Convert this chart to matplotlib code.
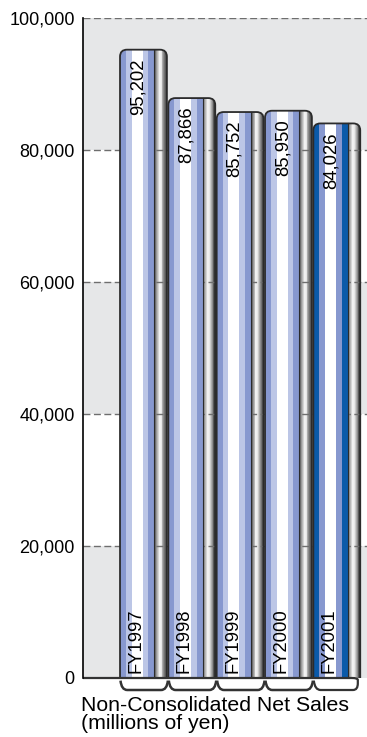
import numpy as np
import matplotlib.pyplot as plt
from matplotlib.patches import FancyBboxPatch, Rectangle, PathPatch
from matplotlib.path import Path

years = ["FY1997", "FY1998", "FY1999", "FY2000", "FY2001"]
sales = [95202, 87866, 85752, 85950, 84026]
yticks = [0, 20000, 40000, 60000, 80000, 100000]

plt.rcParams['font.family'] = ['Liberation Sans', 'DejaVu Sans']

fig = plt.figure(figsize=(3.67, 7.37), dpi=100)
ax = fig.add_axes([83 / 367, 59 / 737, 284 / 367, 660 / 737])
ax.set_xlim(-0.766, 5.11)
ax.set_ylim(0, 100000)

# size of one pixel in data units
px_x = 1 / 48.3
px_y = 100000 / 660
aspect = px_y / px_x

# alternating background bands
for k, lo in enumerate(yticks[:-1]):
    ax.fill_between([-0.766, 5.11], lo, lo + 20000, lw=0, zorder=0.5,
                    color='#e6e7e8' if k % 2 == 0 else 'white')

# dashed grid lines
for y in yticks[1:]:
    ax.plot([-0.766, 5.11], [y, y], color='#6e6e6e', lw=1,
            ls=(0, (5, 2.5)), zorder=3)

mid, light, dark = '#8798cf', '#bcc6e6', '#0b5aa9'
side_gray = np.interp(np.linspace(0, 1, 14), [0, 0.12, 0.4, 0.55, 0.8, 1],
                      [0.25, 0.55, 0.97, 0.9, 0.5, 0.25])

for i, v in enumerate(sales):
    last = i == len(sales) - 1
    outer, inner = (dark, mid) if last else (mid, light)
    outline = FancyBboxPatch((i, -5000), 0.97, v + 5000,
                             boxstyle=f"round,pad=0,rounding_size={7 * px_x}",
                             mutation_aspect=aspect, fc='none', ec='#2b2b2b',
                             lw=1.3, zorder=5)
    ax.add_patch(outline)

    stripes = [(0.0, 0.125, outer), (0.125, 0.24, inner), (0.24, 0.47, 'white'),
               (0.47, 0.585, inner), (0.585, 0.71, outer)]
    # rounded grey side of the bar, shaded in thin slices
    edges = np.linspace(0.71, 0.97, len(side_gray) + 1)
    for a, b, g in zip(edges[:-1], edges[1:], side_gray):
        stripes.append((a, b, str(g)))
    for a, b, c in stripes:
        r = Rectangle((i + a, -5000), b - a + 0.003, v + 5000, fc=c, lw=0,
                      zorder=2 if a >= 0.71 else 4)
        ax.add_patch(r)
        r.set_clip_path(outline)
    ax.plot([i + 0.71, i + 0.71], [0, v], color='#2b2b2b', lw=0.8, zorder=4.5)

    ax.text(i + 0.37, v - 1300, f"{v:,}", rotation=90, ha='center', va='top',
            fontsize=13.3, zorder=6)
    ax.text(i + 0.33, 700, years[i], rotation=90, ha='center', va='bottom',
            fontsize=13.3, zorder=6)

    # bracket under each bar
    yb = -12 * px_y
    if last:
        verts = [(i + 0.01, -400), (i + 0.03, yb), (i + 0.15, yb), (i + 0.82, yb),
                 (i + 0.92, yb), (i + 0.92, yb + 1000), (i + 0.92, -300),
                 (i + 0.92, 0), (i + 0.80, 0), (-0.766, 0)]
        codes = [Path.MOVETO, Path.CURVE3, Path.CURVE3, Path.LINETO,
                 Path.CURVE3, Path.CURVE3, Path.LINETO,
                 Path.CURVE3, Path.CURVE3, Path.LINETO]
    else:
        verts = [(i + 0.01, -400), (i + 0.03, yb), (i + 0.15, yb),
                 (i + 0.85, yb), (i + 0.97, yb), (i + 0.99, -400)]
        codes = [Path.MOVETO, Path.CURVE3, Path.CURVE3,
                 Path.LINETO, Path.CURVE3, Path.CURVE3]
    ax.add_patch(PathPatch(Path(verts, codes), fc='none', ec='#333333',
                           lw=1.8 if not last else 1.6, clip_on=False, zorder=6))

ax.set_xlim(-0.766, 5.11)
ax.set_ylim(0, 100000)
ax.set_xticks([])
ax.set_yticks(yticks)
ax.set_yticklabels([f"{t:,}" for t in yticks])
ax.tick_params(axis='y', length=0, pad=6, labelsize=13)
for s in ('top', 'right', 'bottom'):
    ax.spines[s].set_visible(False)
ax.spines['left'].set_color('black')
ax.spines['left'].set_linewidth(1.2)
ax.spines['left'].set_zorder(6)

fig.text(81 / 367, 1 - 711 / 737, "Non-Consolidated Net Sales",
         ha='left', va='baseline', fontsize=15.3)
fig.text(81 / 367, 1 - 729 / 737, "(millions of yen)",
         ha='left', va='baseline', fontsize=15.3)

fig.savefig('out.png', dpi=100)
